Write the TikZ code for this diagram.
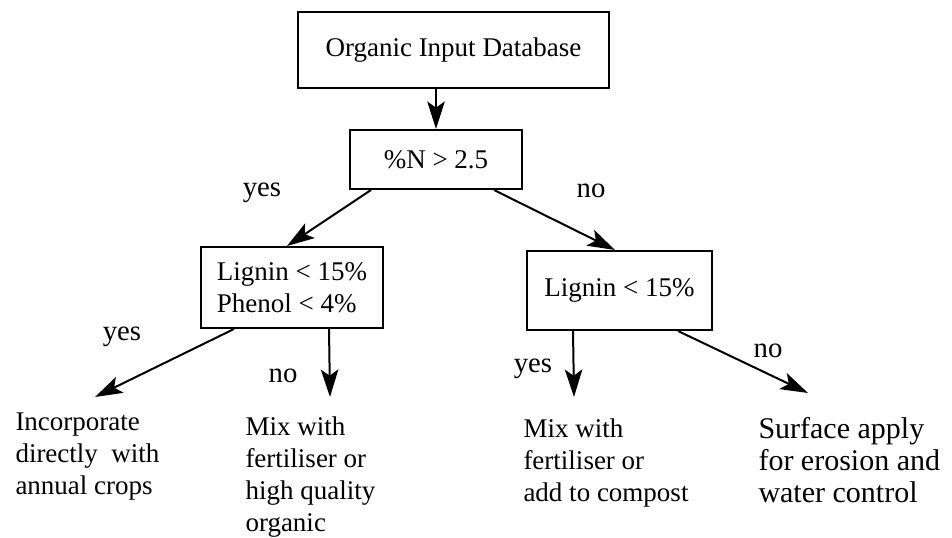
\documentclass[tikz,border=0pt]{standalone}
\usepackage{fontspec}
\setmainfont{Liberation Serif}
\usetikzlibrary{arrows.meta,calc}
\tikzstyle{arrow} = [line width=0.8pt,-{Stealth[length=11pt,width=7pt,inset=2.5pt]}]
\tikzstyle{box} = [draw,line width=0.8pt,inner sep=0pt]
\tikzstyle{leaf} = [anchor=north west,align=left,inner sep=0pt]
\tikzstyle{answer} = [anchor=base,inner sep=0pt,font=\fontsize{11.5}{13}\selectfont]

\begin{document}
\begin{tikzpicture}[x=0.4pt,y=-0.4pt,font=\fontsize{10.8}{12.8}\selectfont]
	\useasboundingbox (0,0) rectangle (952,538);
	% decision boxes
	\node (db) at (453.5,50) [box,minimum width=124.4pt,minimum height=30.4pt] {Organic Input Database};
	\node (pct) at (436,159.5) [box,minimum width=68.8pt,minimum height=23.6pt] {\%N > 2.5};
	\node (lignA) at (292,287.5) [box,minimum width=72.8pt,minimum height=32.4pt,align=left] {Lignin < 15\%\\Phenol < 4\%};
	\node (lignB) at (619.5,290.5) [box,minimum width=74pt,minimum height=31.6pt] {Lignin < 15\%};
	% outcomes
	\node (leafA) at (15,412) [leaf] {Incorporate\\directly\ \ with\\annual crops};
	\node (leafB) at (245,416.5) [leaf] {Mix with\\fertiliser or\\high quality\\organic};
	\node (leafC) at (523,418.5) [leaf] {Mix with\\fertiliser or\\add to compost};
	\node (leafD) at (758,416.6) [leaf,font=\fontsize{12}{12.8}\selectfont] {Surface apply\\for erosion and\\water control};
	% yes / no
	\node (yesA) at (262,197) [answer] {yes};
	\node (noA) at (591,198) [answer] {no};
	\node (yesB) at (122,341) [answer] {yes};
	\node (noB) at (283,383) [answer] {no};
	\node (yesC) at (533,373) [answer] {yes};
	\node (noC) at (768,358) [answer] {no};
	% arrows
	\draw [arrow] (db.south -| pct.north) -- (pct.north);
	\draw [arrow] ($(pct.south west)+(22,0)$) -- ($(lignA.north)+(-5,0)$);
	\draw [arrow] ($(pct.south east)+(-29,0)$) -- ($(lignB.north)+(-4.5,0)$);
	\draw [arrow] ($(lignA.south west)+(34,0)$) -- ($(leafA.north west)+(80,-15)$);
	\draw [arrow] ($(lignA.south west)+(129,0)$) -- ($(leafB.north west)+(85,-19.5)$);
	\draw [arrow] ($(lignB.south west)+(47,0)$) -- ($(leafC.north west)+(51,-21.5)$);
	\draw [arrow] ($(lignB.south east)+(-35,0)$) -- ($(leafD.north west)+(50,-23.6)$);
\end{tikzpicture}
\end{document}
